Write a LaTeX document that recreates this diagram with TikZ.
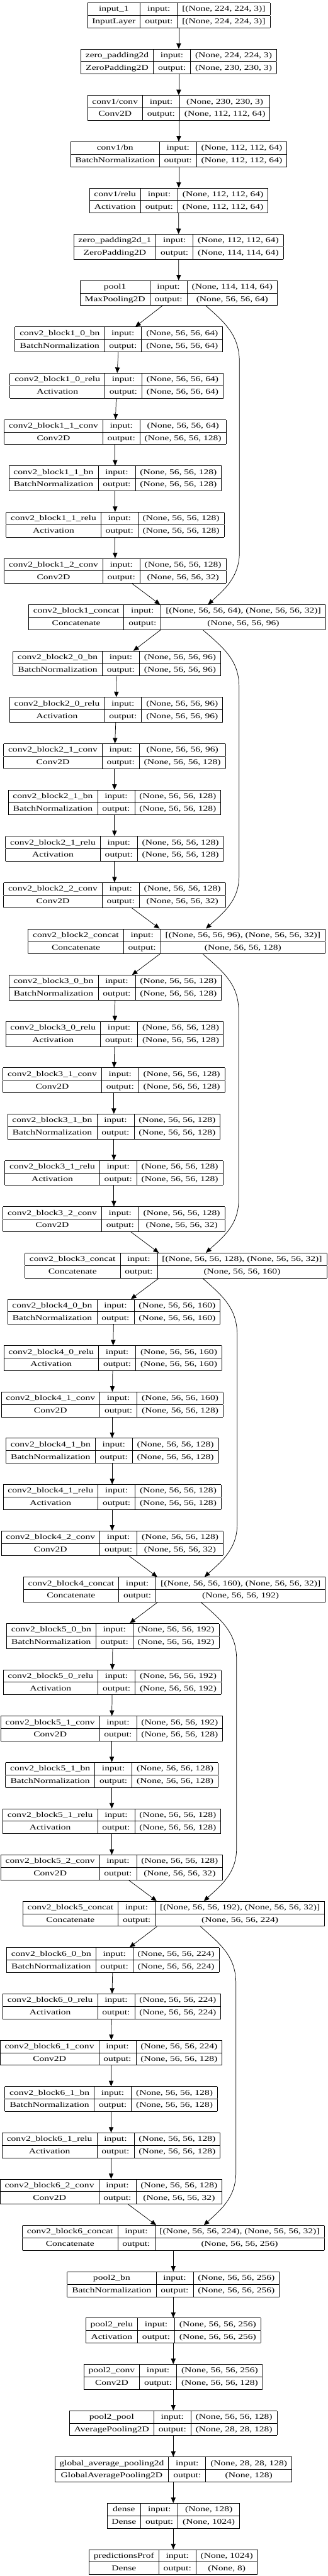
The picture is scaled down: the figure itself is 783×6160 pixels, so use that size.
\documentclass[tikz,border=0pt]{standalone}
\usepackage{fontspec}
\setmainfont{Liberation Serif}[FakeStretch=1.33]
\usetikzlibrary{arrows.meta,calc}
\setlength{\tabcolsep}{11.2pt}
\setlength{\arrayrulewidth}{1.3pt}
\newcommand{\strutk}{\rule[-9.15pt]{0pt}{28.55pt}}
\newcommand{\klayer}[7]{%
  \node[klay] (#1) at (#2,{-(36.5+110.73*(#3))}) {\begin{tabular}{|c|c|c|}\hline\strutk #4 & input: & #6\\\hline\strutk #5 & output: & #7\\\hline\end{tabular}};}
\newcommand{\kbypass}[5]{%
  \draw[edge] ([xshift=#2pt]#1.south) .. controls +(45pt,-40pt) and ($(#1.south -| #5)+(0,-70)$) .. ($(#1.south -| #5)+(0,-135)$)
   -- ($(#3.north -| #5)+(0,125)$) .. controls ($(#3.north -| #5)+(0,65)$) and ($(#3.north)+(#4+38,35)$) .. ([xshift=#4pt]#3.north);}
\newcommand{\kblock}[7]{% #1 b, #2 cin, #3 cout, #4 xbn, #5 xrelu, #6 xbase, #7 xcat
  \klayer{b#1bn0}{#4}{7*#1}{conv2\_block#1\_0\_bn}{BatchNormalization}{(None, 56, 56, #2)}{(None, 56, 56, #2)}
  \klayer{b#1relu0}{#5}{7*#1+1}{conv2\_block#1\_0\_relu}{Activation}{(None, 56, 56, #2)}{(None, 56, 56, #2)}
  \klayer{b#1conv1}{#6}{7*#1+2}{conv2\_block#1\_1\_conv}{Conv2D}{(None, 56, 56, #2)}{(None, 56, 56, 128)}
  \klayer{b#1bn1}{#6}{7*#1+3}{conv2\_block#1\_1\_bn}{BatchNormalization}{(None, 56, 56, 128)}{(None, 56, 56, 128)}
  \klayer{b#1relu1}{#6}{7*#1+4}{conv2\_block#1\_1\_relu}{Activation}{(None, 56, 56, 128)}{(None, 56, 56, 128)}
  \klayer{b#1conv2}{#6}{7*#1+5}{conv2\_block#1\_2\_conv}{Conv2D}{(None, 56, 56, 128)}{(None, 56, 56, 32)}
  \klayer{b#1cat}{#7}{7*#1+6}{conv2\_block#1\_concat}{Concatenate}{[(None, 56, 56, #2), (None, 56, 56, 32)]}{(None, 56, 56, #3)}
  \draw[edge] (b#1bn0) -- (b#1relu0);
  \draw[edge] (b#1relu0) -- (b#1conv1);
  \draw[edge] (b#1conv1) -- (b#1bn1);
  \draw[edge] (b#1bn1) -- (b#1relu1);
  \draw[edge] (b#1relu1) -- (b#1conv2);
  \draw[edge] (b#1conv2) -- (b#1cat);}
\begin{document}
\begin{tikzpicture}[x=1pt,y=1pt,
  klay/.style={inner sep=0pt,outer sep=0pt,font=\fontsize{17.6}{20}\selectfont},
  edge/.style={-{Triangle[length=13pt,width=11pt]},line width=1.1pt}]
\useasboundingbox (0,0) rectangle (783,-6160);
\fill[white] (0,0) rectangle (783,-6160);
\klayer{in1}{427}{0}{input\_1}{InputLayer}{[(None, 224, 224, 3)]}{[(None, 224, 224, 3)]}
\klayer{zp}{427}{1}{zero\_padding2d}{ZeroPadding2D}{(None, 224, 224, 3)}{(None, 230, 230, 3)}
\klayer{c1conv}{427}{2}{conv1/conv}{Conv2D}{(None, 230, 230, 3)}{(None, 112, 112, 64)}
\klayer{c1bn}{427}{3}{conv1/bn}{BatchNormalization}{(None, 112, 112, 64)}{(None, 112, 112, 64)}
\klayer{c1relu}{427}{4}{conv1/relu}{Activation}{(None, 112, 112, 64)}{(None, 112, 112, 64)}
\klayer{zp1}{426.5}{5}{zero\_padding2d\_1}{ZeroPadding2D}{(None, 112, 112, 64)}{(None, 114, 114, 64)}
\klayer{pool1}{427}{6}{pool1}{MaxPooling2D}{(None, 114, 114, 64)}{(None, 56, 56, 64)}
\draw[edge] (in1) -- (zp);
\draw[edge] (zp) -- (c1conv);
\draw[edge] (c1conv) -- (c1bn);
\draw[edge] (c1bn) -- (c1relu);
\draw[edge] (c1relu) -- (zp1);
\draw[edge] (zp1) -- (pool1);

\kblock{1}{64}{96}{284}{278.5}{275}{423}
\kblock{2}{96}{128}{279}{277.5}{273.5}{422}
\kblock{3}{128}{160}{275}{274}{272}{420}
\kblock{4}{160}{192}{272}{269.5}{268}{416.5}
\kblock{5}{192}{224}{269.5}{268}{267}{415}
\kblock{6}{224}{256}{269.5}{267}{265.5}{414}

\coordinate (bx1) at (572,0);
\coordinate (bx2) at (571,0);
\coordinate (bx3) at (570,0);
\coordinate (bx4) at (566.5,0);
\coordinate (bx5) at (565,0);
\coordinate (bx6) at (563.5,0);

\draw[edge] (pool1) -- (b1bn0);
\kbypass{pool1}{65}{b1cat}{74}{bx1}
\draw[edge] (b1cat) -- (b2bn0);
\kbypass{b1cat}{62}{b2cat}{70}{bx2}
\draw[edge] (b2cat) -- (b3bn0);
\kbypass{b2cat}{63}{b3cat}{72}{bx3}
\draw[edge] (b3cat) -- (b4bn0);
\kbypass{b3cat}{64}{b4cat}{72}{bx4}
\draw[edge] (b4cat) -- (b5bn0);
\kbypass{b4cat}{64}{b5cat}{72}{bx5}
\draw[edge] (b5cat) -- (b6bn0);
\kbypass{b5cat}{64}{b6cat}{73}{bx6}

\klayer{p2bn}{414}{49}{pool2\_bn}{BatchNormalization}{(None, 56, 56, 256)}{(None, 56, 56, 256)}
\klayer{p2relu}{414}{50}{pool2\_relu}{Activation}{(None, 56, 56, 256)}{(None, 56, 56, 256)}
\klayer{p2conv}{414}{51}{pool2\_conv}{Conv2D}{(None, 56, 56, 256)}{(None, 56, 56, 128)}
\klayer{p2pool}{414}{52}{pool2\_pool}{AveragePooling2D}{(None, 56, 56, 128)}{(None, 28, 28, 128)}
\klayer{gap}{414}{53}{global\_average\_pooling2d}{GlobalAveragePooling2D}{(None, 28, 28, 128)}{(None, 128)}
\klayer{dense}{414}{54}{dense}{Dense}{(None, 128)}{(None, 1024)}
\klayer{pred}{414}{55}{predictionsProf}{Dense}{(None, 1024)}{(None, 8)}
\draw[edge] (b6cat) -- (p2bn);
\draw[edge] (p2bn) -- (p2relu);
\draw[edge] (p2relu) -- (p2conv);
\draw[edge] (p2conv) -- (p2pool);
\draw[edge] (p2pool) -- (gap);
\draw[edge] (gap) -- (dense);
\draw[edge] (dense) -- (pred);
\end{tikzpicture}
\end{document}
